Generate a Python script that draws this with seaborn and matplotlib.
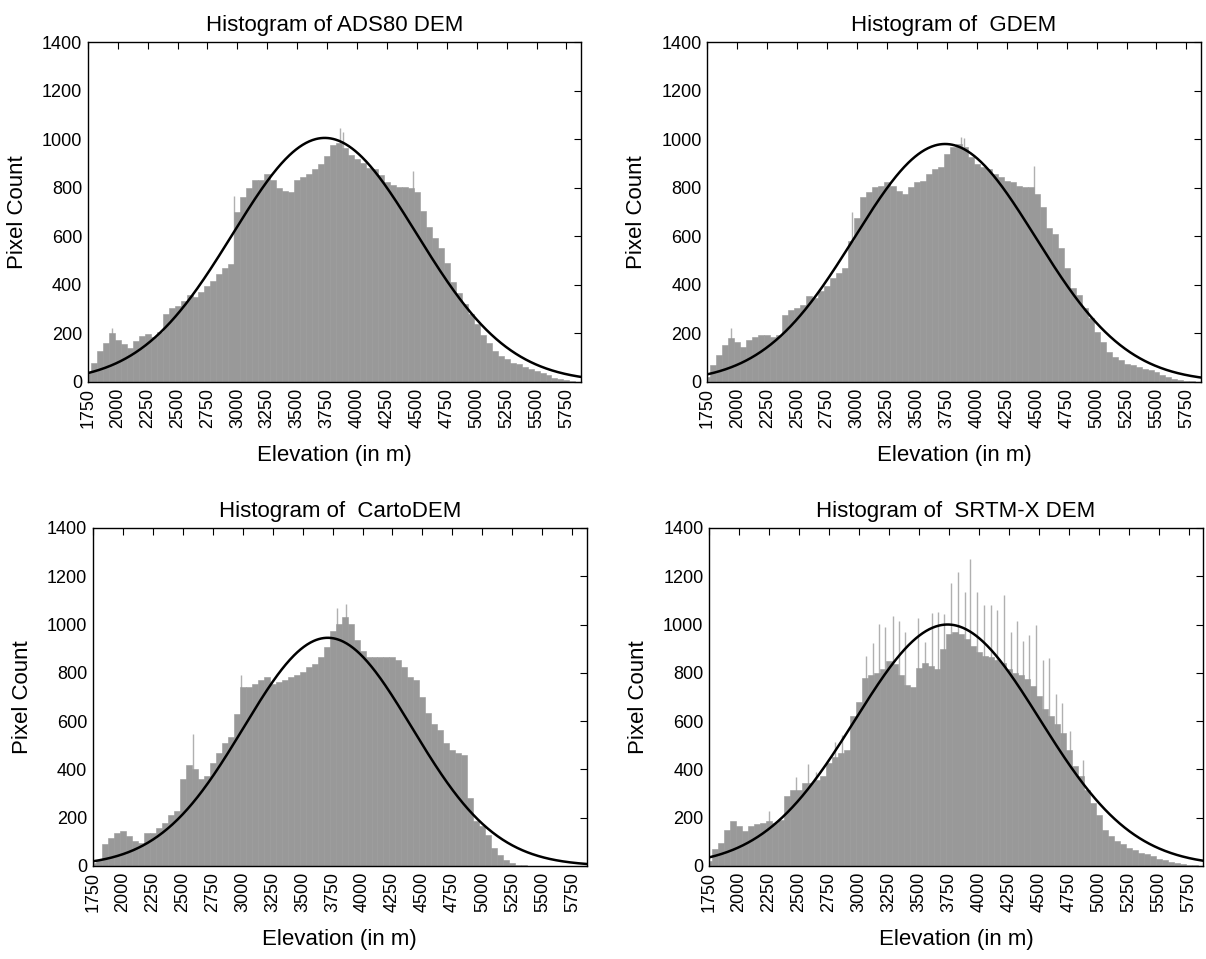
import numpy as np
import pandas as pd
import matplotlib
matplotlib.use("Agg")
import matplotlib.pyplot as plt
import seaborn as sns

# ---------------- data ----------------
# bar heights (pixel count) at bin centres 1750, 1800, ..., 5850 m (50 m bins)
elev_centres = list(range(1750, 5851, 50))

ads80_counts = [40, 80, 128, 160, 200, 172, 155, 138, 168, 190, 198, 185, 205,
                278, 305, 313, 334, 360, 348, 372, 396, 416, 444, 470, 485,
                700, 760, 800, 830, 832, 855, 830, 800, 788, 782, 830,
                843, 857, 877, 898, 930, 975, 985, 962, 934, 918,
                900, 880, 875, 852, 825, 811, 804, 804, 800, 784,
                705, 640, 592, 551, 490, 412, 365, 320, 280, 237,
                192, 160, 128, 105, 93, 79, 72, 60, 52, 45, 35, 27, 18, 12, 7, 4, 1]

gdem_counts = [20, 70, 110, 152, 180, 166, 145, 173, 187, 193, 193, 187, 193,
               276, 297, 304, 318, 352, 345, 373, 394, 428, 449, 470, 580,
               677, 760, 781, 801, 808, 822, 808, 788, 774, 801, 822,
               829, 857, 878, 884, 940, 967, 981, 967, 926, 898,
               884, 878, 857, 843, 829, 822, 808, 801, 801, 774,
               719, 636, 608, 553, 470, 387, 359, 304, 263, 207,
               166, 124, 104, 90, 76, 69, 62, 55, 48, 39, 30, 21, 14, 8, 4, 2, 1]

carto_counts = [14, 25, 90, 117, 137, 144, 124, 103, 96, 137, 137, 158, 178,
                213, 227, 360, 420, 400, 360, 371, 426, 467, 508, 535, 630,
                741, 741, 755, 769, 783, 755, 762, 769, 783, 790, 803,
                824, 838, 865, 906, 975, 1002, 1030, 1002, 934, 892,
                865, 865, 865, 865, 865, 851, 824, 783, 769, 700,
                632, 590, 563, 508, 481, 467, 460, 280, 185, 165,
                130, 75, 45, 25, 11, 5, 2, 1, 0, 0, 0, 0, 0, 0, 0, 0, 0]

srtm_counts = [20, 69, 96, 151, 185, 165, 144, 165, 172, 178, 185, 178, 192,
               288, 316, 316, 343, 343, 357, 371, 426, 453, 467, 481, 620,
               680, 780, 790, 800, 815, 850, 835, 790, 750, 740, 820,
               840, 830, 815, 900, 960, 970, 960, 940, 910, 885,
               870, 865, 855, 840, 815, 800, 790, 775, 745, 705,
               650, 620, 590, 549, 481, 412, 371, 316, 261, 213,
               151, 124, 103, 89, 76, 66, 55, 48, 41, 30, 23, 16, 11, 7, 4, 2, 1]

# isolated single-bin spikes visible above the bars
ads80_spike_elev = [1950, 2968, 3855, 3880, 4470]
ads80_spike_count = [222, 765, 1045, 1030, 870]
gdem_spike_elev = [1950, 2960, 3870, 3890, 4480]
gdem_spike_count = [222, 700, 1010, 1005, 890]
carto_spike_elev = [2590, 2990, 3790, 3860]
carto_spike_count = [545, 790, 1070, 1085]
srtm_spike_elev = [2253, 2476, 2578, 2640, 2801, 2857, 3057, 3114, 3170, 3220,
                   3281, 3337, 3387, 3496, 3551, 3607, 3663, 3713, 3769, 3825,
                   3881, 3929, 3987, 4042, 4098, 4154, 4207, 4265, 4320, 4373,
                   4423, 4479, 4535, 4585, 4646, 4697, 4760, 4870]
srtm_spike_count = [229, 370, 423, 391, 515, 543, 870, 925, 1004, 988,
                    1036, 1015, 967, 1027, 929, 1049, 1052, 1045, 1171, 1218,
                    1134, 1273, 1134, 1079, 1082, 1061, 1124, 967, 1015, 932,
                    956, 1000, 854, 861, 711, 676, 560, 440]

# fitted normal curves as drawn in the reference: centre, spread, peak height
fit_mean = [3730, 3735, 3710, 3740]
fit_sd = [769, 757, 702, 770]
fit_peak = [1005, 980, 945, 1000]

titles = ["Histogram of ADS80 DEM", "Histogram of  GDEM",
          "Histogram of  CartoDEM", "Histogram of  SRTM-X DEM"]
x_ticks = list(range(1750, 5751, 250))
y_ticks = list(range(0, 1401, 200))

# ---------------- styling ----------------
sns.set_theme(style="white")
plt.rcParams["font.family"] = ["Liberation Sans", "DejaVu Sans"]
plt.rcParams["text.color"] = "black"
plt.rcParams["axes.labelcolor"] = "black"

BAR = "#999999"
SPIKE = "#b0b0b0"
BIN_W = 50

fig = plt.figure(figsize=(12.06, 9.59), dpi=100)
positions = [
    [0.0728, 0.6017, 0.4088, 0.3545],
    [0.5865, 0.6017, 0.4092, 0.3545],
    [0.0769, 0.0970, 0.4096, 0.3525],
    [0.5879, 0.0970, 0.4096, 0.3525],
]
panels = [
    (ads80_counts, ads80_spike_elev, ads80_spike_count),
    (gdem_counts, gdem_spike_elev, gdem_spike_count),
    (carto_counts, carto_spike_elev, carto_spike_count),
    (srtm_counts, srtm_spike_elev, srtm_spike_count),
]

centres = np.array(elev_centres, dtype=float)
edges = [float(e) for e in np.arange(centres[0] - BIN_W / 2,
                                     centres[-1] + BIN_W / 2 + 1, BIN_W)]
xs = np.linspace(1750, 5870, 600)

for i, (pos, title, (counts, sp_x, sp_h)) in enumerate(zip(positions, titles, panels)):
    ax = fig.add_axes(pos)
    w = np.array(counts, dtype=float)
    df = pd.DataFrame({"elev": centres, "count": w})
    ax.vlines(sp_x, 0, sp_h, color=SPIKE, lw=1.0, zorder=0.5)
    sns.histplot(data=df, x="elev", weights="count", bins=edges, color=BAR,
                 alpha=1, edgecolor=BAR, linewidth=0.4, ax=ax, zorder=1)

    ys = fit_peak[i] * np.exp(-0.5 * ((xs - fit_mean[i]) / fit_sd[i]) ** 2)
    sns.lineplot(x=xs, y=ys, color="black", lw=1.8, ax=ax, zorder=3)

    ax.set_xlim(1750, 5870)
    ax.set_ylim(0, 1400)
    ax.set_xticks(x_ticks)
    ax.set_xticklabels([str(t) for t in x_ticks], rotation=90)
    ax.set_yticks(y_ticks)
    ax.tick_params(direction="in", top=True, right=True, length=5, width=0.8,
                   labelsize=13, colors="black", pad=4)
    for s in ax.spines.values():
        s.set_color("black")
        s.set_linewidth(1.0)
    ax.set_xlabel("Elevation (in m)", fontsize=16, labelpad=12, color="black")
    ax.set_ylabel("Pixel Count", fontsize=16, labelpad=10, color="black")
    ax.set_title(title, fontsize=16, pad=8, color="black")

fig.savefig("out.png", dpi=100, facecolor="white")
